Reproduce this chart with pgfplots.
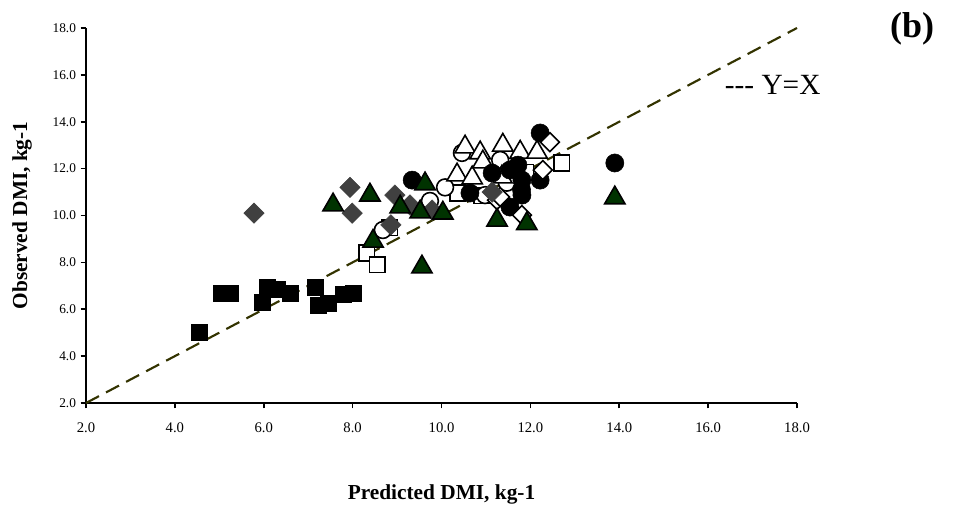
\documentclass[border=0pt]{standalone}
\usepackage{fontspec}
\setmainfont{Liberation Serif}
\usepackage{pgfplots}
\pgfplotsset{compat=1.18}

\definecolor{lineolive}{HTML}{333300}
\definecolor{darkgreen}{HTML}{003300}
\definecolor{diamgray}{HTML}{404040}

\begin{document}
\begin{tikzpicture}
% page = 961 x 510 px at 0.75pt per px, axis box lower left at origin
\useasboundingbox (-64.5pt,-80.25pt) rectangle (656.25pt,302.25pt);
\begin{axis}[
    at={(0,0)}, anchor=south west,
    scale only axis,
    width=533.25pt, height=281.25pt,
    xmin=2, xmax=18, ymin=2, ymax=18,
    axis lines=left,
    axis line style={line width=1.2pt, -},
    xtick={2,4,6,8,10,12,14,16,18},
    ytick={2,4,6,8,10,12,14,16,18},
    tick align=outside,
    major tick length=4pt,
    tick style={line width=1.2pt, black},
    xticklabel style={font=\fontsize{11}{13}\selectfont, yshift=-7pt},
    yticklabel style={font=\fontsize{10}{12}\selectfont},
    /pgf/number format/fixed,
    /pgf/number format/fixed zerofill,
    /pgf/number format/precision=1,
    /pgf/number format/assume math mode=true,
    clip=false,
]
% Y = X reference line
\addplot[lineolive, line width=1.6pt, dash pattern=on 11pt off 6pt] coordinates {(2,2) (18,18)};

% black squares
\addplot[only marks, mark=square*, mark size=6pt, mark options={fill=black, draw=black}] coordinates {
(4.55,5.0) (5.05,6.7) (5.25,6.68) (5.96,6.3) (6.07,6.95) (6.3,6.85) (6.6,6.7)
(7.15,6.95) (7.22,6.18) (7.45,6.27) (7.8,6.65) (8.02,6.7)};

% white squares
\addplot[only marks, mark=square*, mark size=5.8pt, mark options={fill=white, draw=black, line width=1.2pt}] coordinates {
(8.32,8.4) (8.55,7.9) (8.84,9.47) (10.37,10.96) (10.9,10.85) (11.9,11.85) (12.71,12.24)};

% white circles
\addplot[only marks, mark=*, mark size=6.3pt, mark options={fill=white, draw=black, line width=1.2pt}] coordinates {
(8.68,9.38) (9.74,10.62) (10.08,11.2) (10.46,12.67) (10.98,10.87) (11.32,12.37) (11.47,11.4)};

% white triangles
\addplot[only marks, mark=triangle*, mark size=8.8pt, mark options={fill=white, draw=black, line width=1.2pt}] coordinates {
(10.53,12.92) (10.87,12.67) (11.38,13.0) (11.77,12.7) (12.15,12.7)
(10.35,11.73) (10.69,11.6) (10.93,12.28) (11.36,11.64)};

% black circles
\addplot[only marks, mark=*, mark size=6.8pt, mark options={fill=black, draw=black}] coordinates {
(9.34,11.51) (10.64,10.96) (11.14,11.81) (11.54,11.94) (11.72,12.15) (11.81,11.51)
(11.8,11.1) (11.81,10.87) (11.54,10.36) (12.22,11.51) (12.22,13.52) (13.9,12.24)};

% white diamonds
\addplot[only marks, mark=square*, mark size=5pt, mark options={rotate=45, fill=white, draw=black, line width=1.2pt}] coordinates {
(11.25,10.66) (11.32,10.79) (11.81,10.02) (12.28,11.94) (12.44,13.13)};

% gray diamonds
\addplot[only marks, mark=square*, mark size=5.4pt, mark options={rotate=45, fill=diamgray, draw=diamgray}] coordinates {
(5.78,10.1) (7.94,11.2) (7.99,10.1) (8.86,9.6) (8.95,10.87) (9.29,10.45) (9.79,10.23) (11.14,11.0)};

% dark green triangles
\addplot[only marks, mark=triangle*, mark size=8.8pt, mark options={fill=darkgreen, draw=black, line width=1.2pt}] coordinates {
(7.56,10.45) (8.39,10.87) (8.46,8.9) (9.07,10.36) (9.52,10.15) (9.63,11.35)
(10.03,10.1) (11.25,9.8) (11.92,9.65) (13.9,10.75) (9.56,7.8)};

\node[anchor=west, font=\fontsize{22}{26}\selectfont] at (rel axis cs:0.892,0.848) {-{}-{}- Y=X};
\node[font=\bfseries\fontsize{27}{32}\selectfont] at (rel axis cs:1.162,1.008) [yshift=-3pt] {(b)};
\node[font=\bfseries\fontsize{16}{19}\selectfont] at (rel axis cs:0.5,0) [yshift=-68.25pt] {Predicted DMI, kg-1};
\node[font=\bfseries\fontsize{16}{19}\selectfont, xshift=-48pt, rotate=90] at (rel axis cs:0,0.5) {Observed DMI, kg-1};
\end{axis}
\end{tikzpicture}
\end{document}
